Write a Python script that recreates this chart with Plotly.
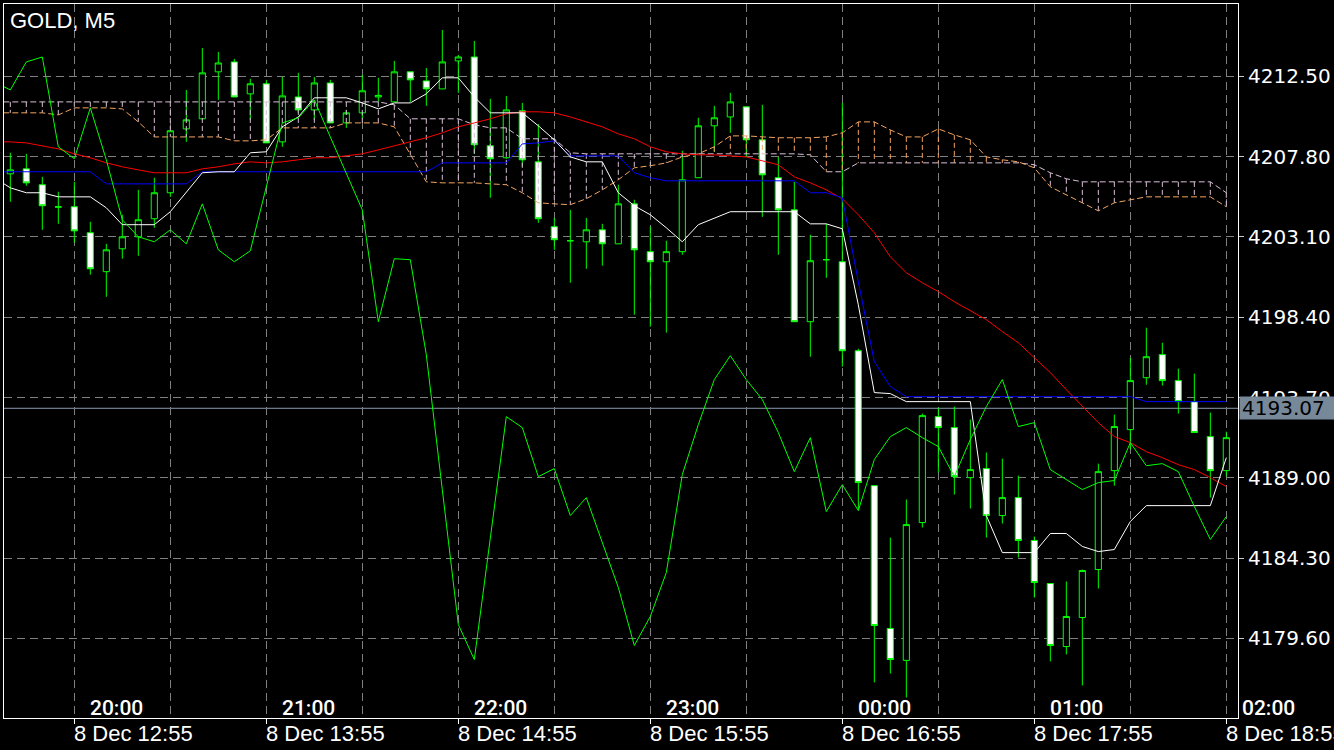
import plotly.graph_objects as go

# ---------------- data ----------------
title_text = "GOLD, M5"
bars = list(range(77))            # 5-minute bars, 12:35 .. 18:55 (server time)
line_bars = [-1] + bars           # indicator lines also start one bar left of the frame

opens = [4206.80, 4207.09, 4206.16, 4204.87, 4204.87, 4203.35, 4201.07, 4202.41, 4203.11, 4204.17,
         4205.69, 4209.43, 4210.02, 4212.77, 4213.35, 4211.48, 4212.07, 4208.67, 4211.30, 4210.54,
         4212.12, 4209.78, 4210.37, 4211.30, 4211.01, 4212.77, 4212.24, 4211.77, 4213.41, 4213.64,
         4208.44, 4207.74, 4210.49, 4207.50, 4203.70, 4202.88, 4202.82, 4203.52, 4202.70, 4205.04,
         4202.24, 4201.65, 4202.24, 4206.57, 4209.61, 4210.13, 4210.72, 4208.79, 4206.57, 4204.69,
         4198.14, 4201.77, 4201.65, 4196.44, 4188.54, 4180.18, 4178.31, 4186.38, 4192.58, 4191.94,
         4189.01, 4189.54, 4186.79, 4187.84, 4185.33, 4182.81, 4179.12, 4180.82, 4183.63, 4189.42,
         4191.82, 4194.86, 4196.21, 4194.69, 4193.46, 4191.41, 4189.42]
highs = [4208.03, 4207.97, 4206.62, 4205.75, 4206.33, 4203.99, 4202.70, 4204.40, 4205.86, 4206.57,
         4209.32, 4211.71, 4214.17, 4213.94, 4213.53, 4212.36, 4212.30, 4212.47, 4212.71, 4212.47,
         4212.30, 4210.54, 4212.59, 4212.42, 4213.41, 4212.77, 4213.00, 4215.22, 4213.76, 4214.58,
         4211.19, 4211.36, 4210.95, 4209.72, 4204.22, 4204.69, 4204.22, 4203.87, 4206.16, 4205.28,
         4203.70, 4202.88, 4208.15, 4210.08, 4210.78, 4211.54, 4210.72, 4210.84, 4207.79, 4206.33,
         4203.23, 4203.87, 4210.95, 4196.56, 4188.54, 4185.50, 4187.73, 4192.76, 4193.11, 4193.17,
         4192.41, 4190.48, 4190.12, 4189.13, 4185.56, 4182.81, 4182.93, 4183.63, 4189.83, 4192.70,
         4196.03, 4197.79, 4196.91, 4195.39, 4195.10, 4192.82, 4191.70]
lows = [4205.16, 4206.10, 4203.52, 4203.87, 4202.76, 4200.89, 4199.60, 4201.83, 4202.00, 4203.64,
        4205.45, 4208.67, 4210.02, 4211.13, 4211.30, 4209.96, 4208.61, 4208.38, 4210.37, 4209.96,
        4209.78, 4209.49, 4210.02, 4211.01, 4211.01, 4211.01, 4210.78, 4211.77, 4211.54, 4207.97,
        4205.40, 4207.68, 4207.21, 4203.93, 4202.35, 4200.42, 4201.24, 4201.42, 4202.70, 4198.55,
        4197.85, 4197.50, 4202.06, 4206.57, 4208.09, 4209.20, 4207.79, 4204.28, 4202.06, 4198.14,
        4196.09, 4200.71, 4195.51, 4187.14, 4177.02, 4177.54, 4176.14, 4186.09, 4189.31, 4188.02,
        4187.20, 4185.50, 4186.32, 4184.33, 4181.99, 4178.25, 4178.66, 4176.84, 4182.52, 4188.54,
        4190.65, 4194.45, 4194.40, 4192.76, 4191.65, 4187.84, 4189.07]
closes = [4207.03, 4206.27, 4204.93, 4204.85, 4203.46, 4201.24, 4202.35, 4203.11, 4204.11, 4205.69,
          4209.32, 4209.96, 4212.71, 4213.29, 4211.30, 4212.07, 4208.61, 4211.36, 4210.54, 4212.12,
          4209.78, 4210.37, 4211.66, 4211.39, 4212.77, 4212.30, 4211.77, 4213.35, 4213.64, 4208.50,
          4207.68, 4210.54, 4207.62, 4204.17, 4202.94, 4202.88, 4203.52, 4202.70, 4205.04, 4202.35,
          4201.65, 4202.24, 4206.45, 4209.61, 4210.08, 4211.01, 4208.79, 4206.74, 4204.69, 4198.14,
          4201.71, 4201.77, 4196.44, 4188.72, 4180.35, 4178.36, 4186.26, 4192.64, 4191.94, 4189.07,
          4189.48, 4186.79, 4187.84, 4185.33, 4182.87, 4179.18, 4180.88, 4183.57, 4189.36, 4192.00,
          4194.69, 4196.09, 4194.69, 4193.46, 4191.65, 4189.42, 4191.35]

# white line (Tenkan-sen), bars -1..76
tenkan = [4206.57,
          4205.98, 4205.69, 4205.69, 4205.45, 4205.45, 4205.45, 4204.81, 4203.82, 4203.82, 4203.82,
          4204.58, 4205.69, 4206.86, 4206.92, 4206.92, 4208.03, 4208.09, 4209.55, 4210.13, 4211.25,
          4211.25, 4211.25, 4210.95, 4210.60, 4210.95, 4210.95, 4211.48, 4212.42, 4212.42, 4211.30,
          4210.37, 4210.37, 4210.37, 4209.61, 4208.79, 4207.79, 4207.50, 4207.50, 4205.69, 4204.93,
          4204.40, 4203.64, 4202.82, 4203.82, 4204.22, 4204.58, 4204.58, 4204.58, 4204.58, 4204.58,
          4203.87, 4203.87, 4203.58, 4199.13, 4193.99, 4193.93, 4193.46, 4193.46, 4193.46, 4193.46,
          4193.46, 4186.79, 4184.62, 4184.62, 4184.62, 4185.74, 4185.74, 4184.98, 4184.68, 4184.80,
          4186.44, 4187.37, 4187.37, 4187.37, 4187.37, 4187.37, 4190.18]
# blue line (Kijun-sen), bars -1..76
kijun = [4206.92,
         4206.92, 4206.92, 4206.92, 4206.92, 4206.92, 4206.92, 4206.21, 4206.21, 4206.21, 4206.21,
         4206.21, 4206.21, 4206.92, 4206.92, 4206.92, 4206.92, 4206.92, 4206.92, 4206.92, 4206.92,
         4206.92, 4206.92, 4206.92, 4206.92, 4206.92, 4206.92, 4206.92, 4207.44, 4207.44, 4207.44,
         4207.44, 4207.44, 4208.55, 4208.61, 4208.73, 4207.85, 4207.85, 4207.85, 4207.85, 4206.86,
         4206.57, 4206.39, 4206.39, 4206.39, 4206.39, 4206.39, 4206.39, 4206.39, 4206.39, 4206.39,
         4205.69, 4205.69, 4205.40, 4200.48, 4195.80, 4194.34, 4193.75, 4193.75, 4193.75, 4193.75,
         4193.75, 4193.75, 4193.75, 4193.75, 4193.75, 4193.75, 4193.75, 4193.75, 4193.75, 4193.75,
         4193.75, 4193.46, 4193.46, 4193.46, 4193.46, 4193.46, 4193.46]
# red moving average, bars -1..76
ma_red = [4208.67,
          4208.67, 4208.61, 4208.44, 4208.26, 4207.97, 4207.74, 4207.44, 4207.21, 4207.03, 4206.86,
          4206.86, 4206.86, 4207.09, 4207.21, 4207.38, 4207.50, 4207.44, 4207.50, 4207.62, 4207.74,
          4207.74, 4207.85, 4207.97, 4208.20, 4208.44, 4208.67, 4208.91, 4209.20, 4209.55, 4209.78,
          4210.02, 4210.31, 4210.43, 4210.43, 4210.37, 4210.13, 4209.84, 4209.55, 4209.14, 4208.85,
          4208.38, 4208.09, 4207.97, 4207.91, 4207.91, 4207.85, 4207.79, 4207.56, 4207.33, 4206.62,
          4206.27, 4205.86, 4205.34, 4204.40, 4203.35, 4201.94, 4201.01, 4200.42, 4199.90, 4199.31,
          4198.78, 4198.26, 4197.56, 4196.91, 4196.03, 4195.16, 4194.16, 4193.17, 4192.23, 4191.41,
          4191.06, 4190.53, 4190.18, 4189.77, 4189.48, 4189.01, 4188.49]
# thin green line, bars -1..76
green_line = [4212.18,
              4211.71, 4213.35, 4213.64, 4208.38, 4207.68, 4210.66, 4207.62, 4204.11, 4203.11, 4202.82,
              4203.52, 4202.70, 4205.04, 4202.35, 4201.65, 4202.29, 4206.10, 4209.78, 4210.08, 4211.13,
              4208.96, 4206.86, 4204.69, 4198.14, 4201.83, 4201.77, 4196.21, 4188.31, 4180.41, 4178.36,
              4185.50, 4192.58, 4191.94, 4189.07, 4189.54, 4186.79, 4187.84, 4185.21, 4182.58, 4179.18,
              4180.88, 4183.45, 4189.19, 4192.11, 4194.75, 4196.15, 4194.75, 4193.58, 4191.65, 4189.36,
              4191.35, 4187.02, 4188.60, 4187.08, 4190.07, 4191.41, 4191.94, 4191.35, 4190.83, 4189.07,
              4191.24, 4193.17, 4194.75, 4192.00, 4192.23, 4189.48, 4188.90, 4188.31, 4188.72, 4188.84,
              4191.06, 4189.71, 4189.83, 4189.36, 4187.32, 4185.39, 4186.73]
# Ichimoku cloud: Senkou Span A (sandy brown) and Span B (thistle), bars -1..76
span_a = [4210.37,
          4210.37, 4210.37, 4210.37, 4210.25, 4210.66, 4210.66, 4210.66, 4210.60, 4209.84, 4208.96,
          4208.96, 4208.96, 4208.96, 4208.96, 4208.73, 4208.73, 4208.79, 4209.49, 4209.49, 4209.49,
          4209.49, 4209.78, 4209.78, 4209.78, 4209.55, 4207.91, 4206.33, 4206.27, 4206.27, 4206.27,
          4206.21, 4206.16, 4205.69, 4205.10, 4205.04, 4204.99, 4205.34, 4205.86, 4206.45, 4207.15,
          4207.27, 4207.44, 4207.79, 4207.97, 4208.38, 4209.02, 4209.02, 4208.96, 4208.91, 4208.91,
          4208.91, 4208.96, 4209.20, 4209.84, 4209.84, 4209.37, 4208.96, 4208.96, 4209.43, 4209.08,
          4208.79, 4207.79, 4207.62, 4207.50, 4207.15, 4206.04, 4205.57, 4205.10, 4204.63, 4205.10,
          4205.28, 4205.45, 4205.45, 4205.45, 4205.45, 4205.45, 4204.87]
span_b = [4211.01,
          4211.01, 4211.01, 4211.01, 4211.01, 4211.01, 4211.01, 4211.01, 4211.01, 4211.01, 4211.01,
          4211.01, 4211.01, 4211.01, 4211.01, 4211.01, 4211.01, 4211.01, 4211.01, 4211.01, 4211.01,
          4211.01, 4211.01, 4211.01, 4211.01, 4210.84, 4210.02, 4210.02, 4210.02, 4210.02, 4209.67,
          4209.49, 4209.49, 4208.85, 4208.85, 4208.85, 4208.03, 4207.97, 4207.97, 4207.97, 4207.97,
          4207.97, 4207.97, 4207.97, 4207.97, 4207.97, 4207.97, 4207.97, 4207.97, 4207.97, 4207.97,
          4207.91, 4206.92, 4206.92, 4207.44, 4207.44, 4207.44, 4207.44, 4207.44, 4207.44, 4207.44,
          4207.44, 4207.44, 4207.44, 4207.44, 4207.33, 4206.86, 4206.51, 4206.33, 4206.33, 4206.33,
          4206.33, 4206.33, 4206.33, 4206.33, 4206.33, 4206.33, 4205.69]

price_ticks = [4179.60, 4184.30, 4189.00, 4193.70, 4198.40, 4203.10, 4207.80, 4212.50]
hour_bars = [4, 16, 28, 40, 52, 64, 76]
half_hour_bars = [10, 22, 34, 46, 58, 70]
hour_labels = ["20:00", "21:00", "22:00", "23:00", "00:00", "01:00", "02:00"]
date_labels = ["8 Dec 12:55", "8 Dec 13:55", "8 Dec 14:55", "8 Dec 15:55",
               "8 Dec 16:55", "8 Dec 17:55", "8 Dec 18:55"]
bid_price = 4193.07

# ---------------- styling ----------------
X_RANGE = [-0.394, 76.73]
Y_RANGE = [4174.936, 4216.742]
GREEN = "#00ff00"
GRID = "#808080"
GRID_DASH = "8px,5px"
CLOUD_UP = "#F4A460"
CLOUD_DN = "#D8BFD8"


def paper_x(b):
    return (b - X_RANGE[0]) / (X_RANGE[1] - X_RANGE[0])


fig = go.Figure()

fig.add_trace(go.Candlestick(
    x=bars, open=opens, high=highs, low=lows, close=closes,
    increasing=dict(line=dict(color=GREEN, width=1), fillcolor="#000000"),
    decreasing=dict(line=dict(color=GREEN, width=1), fillcolor="#ffffff"),
    whiskerwidth=0, hoverinfo="skip", showlegend=False))

# cloud hatching (vertical dashed segments between span A and span B)
hx_up, hy_up, hx_dn, hy_dn = [], [], [], []
for b, a, s in zip(line_bars, span_a, span_b):
    if a > s:
        hx_up += [b, b, None]
        hy_up += [a, s, None]
    else:
        hx_dn += [b, b, None]
        hy_dn += [s, a, None]
fig.add_trace(go.Scatter(x=hx_dn, y=hy_dn, mode="lines",
                         line=dict(color=CLOUD_DN, width=1, dash="5px,3px"),
                         hoverinfo="skip", showlegend=False))
fig.add_trace(go.Scatter(x=hx_up, y=hy_up, mode="lines",
                         line=dict(color=CLOUD_UP, width=1, dash="5px,3px"),
                         hoverinfo="skip", showlegend=False))
fig.add_trace(go.Scatter(x=line_bars, y=span_b, mode="lines",
                         line=dict(color=CLOUD_DN, width=1, dash="6px,3px"),
                         hoverinfo="skip", showlegend=False))
fig.add_trace(go.Scatter(x=line_bars, y=span_a, mode="lines",
                         line=dict(color=CLOUD_UP, width=1, dash="6px,3px"),
                         hoverinfo="skip", showlegend=False))

for series, color in [(ma_red, "#ff0000"), (kijun, "#0000ff"),
                      (tenkan, "#ffffff"), (green_line, GREEN)]:
    fig.add_trace(go.Scatter(x=line_bars, y=series, mode="lines",
                             line=dict(color=color, width=1),
                             hoverinfo="skip", showlegend=False))

# bid line
fig.add_shape(type="line", xref="paper", x0=0, x1=1, yref="y", y0=bid_price, y1=bid_price,
              line=dict(color="#8a9ab0", width=1), layer="below")

annotations = [dict(text=title_text, xref="paper", yref="paper", x=0, y=1,
                    xanchor="left", yanchor="middle", xshift=4, yshift=-16, showarrow=False,
                    font=dict(family="Liberation Sans, Arial, sans-serif", size=22, color="white"))]
for b, hl, dl in zip(hour_bars, hour_labels, date_labels):
    annotations.append(dict(text=hl, xref="paper", yref="paper", x=paper_x(b), y=0,
                            xanchor="left", yanchor="middle", xshift=14, yshift=10,
                            showarrow=False,
                            font=dict(family="Roboto, sans-serif",
                                      size=21, color="white", weight=500)))
    annotations.append(dict(text=dl, xref="paper", yref="paper", x=paper_x(b), y=0,
                            xanchor="left", yanchor="middle", xshift=-2, yshift=-15,
                            showarrow=False,
                            font=dict(family="Liberation Sans, Arial, sans-serif", size=22, color="white")))
annotations.append(dict(text=f"{bid_price:.2f}", xref="paper", yref="y", x=1, y=bid_price,
                        xanchor="left", yanchor="middle", xshift=1, showarrow=False,
                        bgcolor="#778899", borderpad=2, width=92, height=18, align="left",
                        font=dict(family="DejaVu Sans, sans-serif", size=20, color="black")))

fig.update_layout(
    width=1334, height=750,
    margin=dict(l=4, r=96, t=4, b=32, autoexpand=False),
    paper_bgcolor="#000000", plot_bgcolor="#000000",
    showlegend=False, hovermode=False, boxgap=0.45,
    annotations=annotations,
    xaxis=dict(range=X_RANGE, rangeslider=dict(visible=False), tickmode="array",
               tickvals=hour_bars, ticks="outside", ticklen=5, tickcolor="white",
               showticklabels=False, showgrid=True, gridcolor=GRID, griddash=GRID_DASH,
               gridwidth=1, showline=True, linecolor="white", linewidth=1, mirror=True,
               zeroline=False, automargin=False,
               minor=dict(tickmode="array", tickvals=half_hour_bars, showgrid=True,
                          gridcolor=GRID, griddash=GRID_DASH, gridwidth=1, ticks="")),
    yaxis=dict(side="right", range=Y_RANGE, tickmode="array", tickvals=price_ticks,
               tickformat=".2f", ticks="outside", ticklen=5, tickcolor="#c8c8c8",
               tickfont=dict(family="DejaVu Sans, sans-serif", size=20, color="white"),
               showgrid=True, gridcolor=GRID, griddash=GRID_DASH, gridwidth=1,
               showline=True, linecolor="white", linewidth=1, mirror=True,
               zeroline=False, automargin=False),
)

fig.write_html("out.html", config={"displayModeBar": False},
               post_script="document.body.style.margin='0';")
